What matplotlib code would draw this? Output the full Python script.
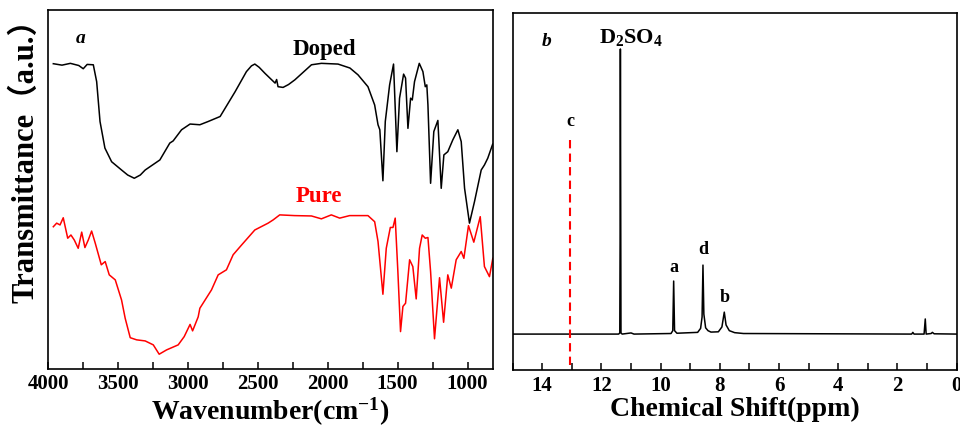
import numpy as np
import matplotlib.pyplot as plt

# FTIR spectra (wavenumber in cm-1, transmittance in a.u.)
doped_wn = [3962, 3900, 3840, 3780, 3748, 3720, 3676, 3652, 3628, 3593, 3545, 3474, 3430,
            3383, 3340, 3305, 3200, 3129, 3105, 3045, 2984, 2914, 2855, 2769, 2662, 2581,
            2545, 2521, 2490, 2448, 2376, 2365, 2355, 2319, 2280, 2235, 2116, 2045, 1926,
            1841, 1783, 1712, 1664, 1640, 1627, 1605, 1588, 1557, 1529, 1505, 1486, 1457,
            1443, 1426, 1407, 1395, 1379, 1345, 1319, 1302, 1291, 1283, 1264, 1241, 1212,
            1188, 1169, 1141, 1105, 1069, 1045, 1021, 986, 950, 902, 879, 855, 820]
doped_t = [85.0, 84.6, 85.1, 84.5, 83.6, 84.8, 84.7, 80.0, 68.9, 61.5, 57.7, 55.4, 54.0,
           53.1, 54.0, 55.4, 58.2, 62.9, 63.5, 66.6, 68.2, 68.0, 68.9, 70.3, 77.2, 82.8,
           84.4, 84.9, 84.0, 82.3, 79.6, 80.6, 78.6, 78.4, 79.2, 80.5, 84.7, 85.1, 84.9,
           83.8, 81.9, 78.6, 73.5, 68.0, 66.6, 52.4, 68.9, 79.1, 84.9, 60.5, 75.4, 82.1,
           81.0, 67.0, 75.4, 74.9, 80.0, 85.1, 82.8, 78.6, 79.1, 73.5, 51.7, 66.1, 69.2,
           50.3, 59.6, 60.5, 63.8, 66.6, 63.3, 50.3, 40.6, 46.6, 55.4, 56.8, 58.7, 62.6]

pure_wn = [3962, 3938, 3914, 3891, 3859, 3836, 3812, 3784, 3759, 3736, 3712, 3688, 3662,
           3619, 3591, 3562, 3519, 3474, 3448, 3412, 3366, 3305, 3247, 3205, 3152, 3069,
           3026, 2984, 2966, 2926, 2914, 2831, 2783, 2724, 2676, 2616, 2521, 2426, 2390,
           2343, 2236, 2116, 2045, 1974, 1914, 1843, 1712, 1664, 1640, 1605, 1581, 1552,
           1533, 1517, 1498, 1479, 1462, 1443, 1414, 1391, 1367, 1343, 1324, 1302, 1283,
           1264, 1236, 1200, 1171, 1141, 1116, 1081, 1045, 1026, 993, 955, 909, 879,
           843, 819]
pure_t = [39.6, 40.6, 40.1, 42.1, 36.4, 37.3, 35.9, 33.6, 38.1, 33.8, 35.9, 38.4, 35.0,
          29.0, 29.9, 26.2, 24.8, 19.2, 14.1, 8.7, 8.1, 7.8, 6.7, 4.1, 5.3, 6.7,
          9.0, 12.4, 10.6, 14.5, 16.9, 22.0, 26.2, 27.6, 31.8, 34.5, 38.7, 40.6, 41.5,
          42.9, 42.7, 42.6, 41.8, 42.9, 42.0, 42.7, 42.7, 41.0, 35.5, 20.8, 33.6, 39.4,
          39.4, 42.0, 27.1, 10.4, 17.4, 18.3, 30.4, 28.5, 19.5, 33.6, 37.3, 36.4, 36.6,
          27.1, 8.4, 25.4, 13.0, 26.2, 22.5, 30.4, 32.7, 30.8, 39.9, 35.3, 42.4, 28.5,
          25.7, 30.8]

# 1H NMR spectrum (chemical shift in ppm, normalised intensity)
nmr_ppm = [15.0, 11.42, 11.38, 11.37, 11.36, 11.34, 11.30, 11.0, 10.9, 9.65, 9.59, 9.56,
           9.53, 9.45, 8.75, 8.65, 8.60, 8.57, 8.54, 8.48, 8.40, 8.30, 8.05, 7.93, 7.85,
           7.79, 7.68, 7.50, 7.20, 1.52, 1.48, 1.44, 1.10, 1.06, 1.03, 0.86, 0.82, 0.76, 0.0]
nmr_int = [0.0, 0.0, 0.004, 0.32, 1.0, 0.004, 0.0, 0.004, 0.0, 0.002, 0.012, 0.186,
           0.012, 0.003, 0.006, 0.02, 0.06, 0.242, 0.07, 0.022, 0.012, 0.007, 0.008, 0.025,
           0.077, 0.032, 0.012, 0.005, 0.002, 0.0, 0.006, 0.0, 0.0, 0.053, 0.0, 0.002,
           0.006, 0.001, 0.0]
c_ppm = 13.06

plt.rcParams['font.family'] = ['Liberation Serif', 'Noto Sans CJK SC']
plt.rcParams['font.weight'] = 'bold'
plt.rcParams['mathtext.fontset'] = 'custom'
plt.rcParams['mathtext.rm'] = 'Liberation Serif:bold'
plt.rcParams['mathtext.bf'] = 'Liberation Serif:bold'
plt.rcParams['mathtext.it'] = 'Liberation Serif:bold:italic'

fig = plt.figure(figsize=(9.6, 4.28), dpi=100)
ax1 = fig.add_axes([0.05, 0.138, 0.4635, 0.839])
ax2 = fig.add_axes([0.534, 0.1355, 0.4625, 0.834])

# panel a: FTIR
ax1.plot(doped_wn, doped_t, color='black', lw=1.1)
ax1.plot(pure_wn, pure_t, color='red', lw=1.1)
ax1.set_xlim(4000, 818)
ax1.set_ylim(0, 100)
ax1.set_xticks([4000, 3500, 3000, 2500, 2000, 1500, 1000])
ax1.set_xticks(np.arange(3750, 800, -500), minor=True)
ax1.set_yticks([])
ax1.set_xlabel('Wavenumber(cm$^{-1}$)', fontsize=20, fontweight='bold', labelpad=1)
ax1.set_ylabel('Transmittance（a.u.）', fontsize=22, fontweight='bold')
ax1.yaxis.set_label_coords(-0.016, 0.60)
ax1.text(0.074, 0.919, 'a', transform=ax1.transAxes, fontsize=14, fontweight='bold',
         style='italic', ha='center', va='center')
ax1.text(0.622, 0.889, 'Doped', transform=ax1.transAxes, fontsize=16.5, fontweight='bold',
         ha='center', va='center')
ax1.text(0.609, 0.479, 'Pure', transform=ax1.transAxes, fontsize=16.5, fontweight='bold',
         color='red', ha='center', va='center')

# panel b: NMR
ax2.plot(nmr_ppm, nmr_int, color='black', lw=1.1)
ax2.set_xlim(15, 0)
ax2.set_ylim(-0.126, 1.126)
ax2.plot([c_ppm, c_ppm], [0.681, -0.126], color='red', lw=1.5, linestyle=(0, (4, 2.5)))
ax2.set_xticks(np.arange(14, -1, -2))
ax2.set_xticks(np.arange(15, 0, -2), minor=True)
ax2.set_yticks([])
ax2.set_xlabel('Chemical Shift(ppm)', fontsize=20, fontweight='bold', labelpad=1)
ax2.text(0.077, 0.919, 'b', transform=ax2.transAxes, fontsize=14, fontweight='bold',
         style='italic', ha='center', va='center')
ax2.text(11.0, 1.039, 'D$_2$SO$_4$', fontsize=16, fontweight='bold',
         ha='center', va='center')
ax2.text(9.56, 0.233, 'a', fontsize=13, fontweight='bold', ha='center', va='center')
ax2.text(8.57, 0.298, 'd', fontsize=13, fontweight='bold', ha='center', va='center')
ax2.text(7.85, 0.127, 'b', fontsize=13, fontweight='bold', ha='center', va='center')
ax2.text(c_ppm, 0.745, 'c', fontsize=13, fontweight='bold', ha='center', va='center')

for ax in (ax1, ax2):
    for sp in ax.spines.values():
        sp.set_linewidth(1.2)
    ax.tick_params(axis='x', which='both', direction='in', length=5, width=1.1,
                   labelsize=15, pad=4)
    for lab in ax.get_xticklabels():
        lab.set_fontweight('bold')

fig.savefig('out.png', dpi=100)
